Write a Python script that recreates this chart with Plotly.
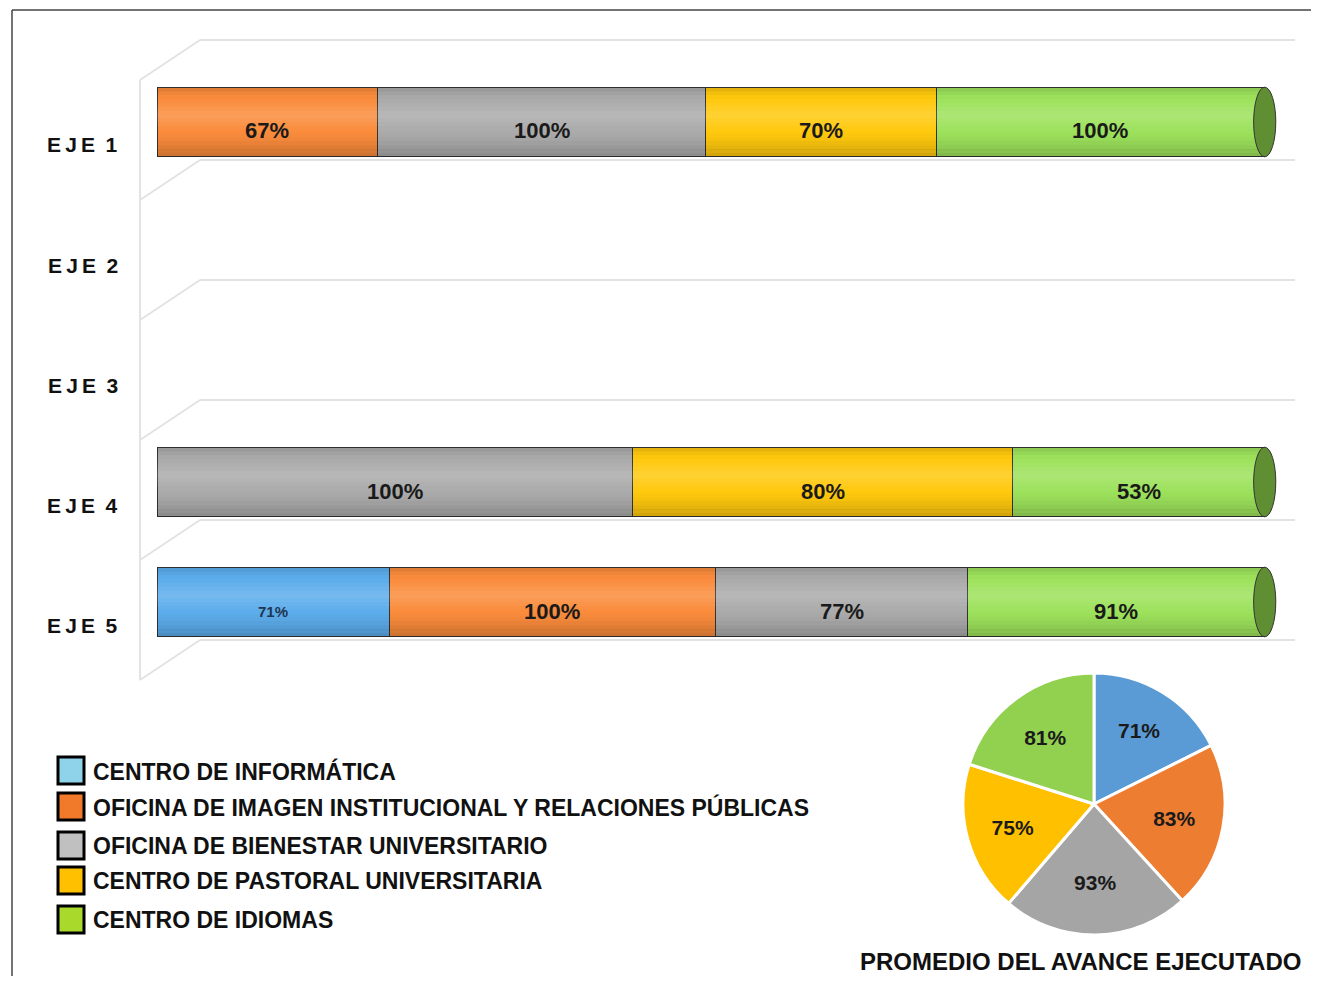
import plotly.graph_objects as go

# Data
ejes = ["EJE 1", "EJE 2", "EJE 3", "EJE 4", "EJE 5"]
eje_labels = ["E\u2009J\u2009E\u2002" + e.split()[1] for e in ejes]

oficinas = [
    "CENTRO DE INFORMÁTICA",
    "OFICINA DE IMAGEN INSTITUCIONAL Y RELACIONES PÚBLICAS",
    "OFICINA DE BIENESTAR UNIVERSITARIO",
    "CENTRO DE PASTORAL UNIVERSITARIA",
    "CENTRO DE IDIOMAS",
]
informatica = [None, None, None, None, 71]
imagen = [67, None, None, None, 100]
bienestar = [100, None, None, 100, 77]
pastoral = [70, None, None, 80, None]
idiomas = [100, None, None, 53, 91]
avance_por_eje = [informatica, imagen, bienestar, pastoral, idiomas]

promedio = [71, 83, 93, 75, 81]
pie_title = "PROMEDIO DEL AVANCE EJECUTADO"

# Styles
FONT = "Liberation Sans, Arial, sans-serif"
BAR_COLORS = ["#5DADEC", "#FA8C3C", "#ABABAB", "#FFC90E", "#9DE25C"]
LEGEND_COLORS = ["#8FD3EA", "#F07A2A", "#C0C0C0", "#FFC000", "#A9D92A"]
PIE_COLORS = ["#5B9BD5", "#ED7D31", "#A5A5A5", "#FFC000", "#92D050"]
CAP_COLOR = "#5F8E33"
GRID = "#E3E3E3"
HALF = 0.29  # half bar thickness in category units
N_BANDS = 18  # strips used to fake the cylinder gradient

# page body has an 8px margin; map reference pixels to paper coords
W, H = 1303, 968


def px(x):
    return (x - 8) / W


def py(y):
    return 1 - (y - 8) / H


def shade(t):
    """Overlay colour for position t in [-1, 1] across the bar (top to bottom)."""
    d = t + 0.2
    if abs(d) < 0.45:
        return f"rgba(255,255,255,{0.16 * (1 - abs(d) / 0.45):.3f})"
    if d < 0:
        return f"rgba(0,0,0,{0.13 * ((abs(d) - 0.45) / 0.35) ** 1.5:.3f})"
    return f"rgba(0,0,0,{0.20 * ((d - 0.45) / 0.75) ** 1.5:.3f})"


fig = go.Figure()

for name, vals, color in zip(oficinas, avance_por_eje, BAR_COLORS):
    fig.add_trace(go.Bar(
        y=ejes, x=vals, orientation="h", name=name,
        marker=dict(color=color, line=dict(color="#333333", width=1)),
        width=2 * HALF, showlegend=False,
        hovertemplate=name + "<br>%{y}: %{customdata}%<extra></extra>",
        customdata=vals,
    ))

fig.add_trace(go.Pie(
    values=promedio, text=[f"<b>{v}%</b>" for v in promedio],
    textinfo="text", sort=False, direction="clockwise", rotation=0,
    marker=dict(colors=PIE_COLORS, line=dict(color="white", width=3)),
    textfont=dict(family=FONT, size=21, color="#1A1A1A"),
    insidetextorientation="horizontal",
    domain=dict(x=[px(963), px(1225)], y=[py(935), py(673)]),
    showlegend=False, hoverinfo="skip",
))

shapes = []
annotations = []

# 3D-style grid: back wall lines, side diagonals, front edge
for k in range(6):
    yb = 40 + 120 * k
    shapes.append(dict(type="line", xref="paper", yref="paper",
                       x0=px(200), x1=px(1295), y0=py(yb), y1=py(yb),
                       line=dict(color=GRID, width=2), layer="below"))
    shapes.append(dict(type="line", xref="paper", yref="paper",
                       x0=px(140), x1=px(200), y0=py(yb + 40), y1=py(yb),
                       line=dict(color=GRID, width=2), layer="below"))
shapes.append(dict(type="line", xref="paper", yref="paper",
                   x0=px(140), x1=px(140), y0=py(80), y1=py(680),
                   line=dict(color=GRID, width=2), layer="below"))

# cylinder shading, end caps and segment labels on rows that have data
step = 2 * HALF / N_BANDS
for i, eje in enumerate(ejes):
    row = [v[i] for v in avance_por_eje]
    total = sum(v for v in row if v is not None)
    if not total:
        continue
    for b in range(N_BANDS):
        y0 = i - HALF + b * step
        t = (b + 0.5) / N_BANDS * 2 - 1
        shapes.append(dict(type="rect", xref="x", yref="y", x0=0, x1=100,
                           y0=y0, y1=y0 + step * 1.02,
                           fillcolor=shade(t), line=dict(width=0)))
    shapes.append(dict(type="circle", xref="x", yref="y",
                       x0=99, x1=101, y0=i - HALF, y1=i + HALF,
                       fillcolor=CAP_COLOR, line=dict(color="#333333", width=1)))
    acc = 0
    for j, v in enumerate(row):
        if v is None:
            continue
        share = v / total * 100
        small = j == 0
        annotations.append(dict(
            text=f"<b>{v}%</b>", xref="x", yref="y",
            x=acc + share / 2, y=eje, yshift=-9,
            showarrow=False,
            font=dict(family=FONT, size=15 if small else 22,
                      color="#1F3550" if small else "#1A1A1A")))
        acc += share

# outer frame (only top and left edges are visible)
shapes.append(dict(type="line", xref="paper", yref="paper",
                   x0=px(12), x1=1.05, y0=py(10), y1=py(10),
                   line=dict(color="#444444", width=1.5)))
shapes.append(dict(type="line", xref="paper", yref="paper",
                   x0=px(12), x1=px(12), y0=py(10), y1=-0.05,
                   line=dict(color="#444444", width=1.5)))

# custom legend
legend_y = [771, 807, 846, 881, 920]
for name, color, yc in zip(oficinas, LEGEND_COLORS, legend_y):
    shapes.append(dict(type="rect", xref="paper", yref="paper",
                       x0=px(58), x1=px(84), y0=py(yc + 13), y1=py(yc - 14),
                       fillcolor=color, line=dict(color="black", width=3)))
    annotations.append(dict(
        text=f"<b>{name}</b>", xref="paper", yref="paper",
        x=px(91), y=py(yc), xanchor="left", yanchor="middle",
        showarrow=False, font=dict(family=FONT, size=23, color="#111111")))

for eje, lab in zip(ejes, eje_labels):
    annotations.append(dict(
        text=f"<b>{lab}</b>", xref="paper", yref="y",
        x=px(120), y=eje, yshift=-23, xanchor="right", yanchor="middle",
        showarrow=False, font=dict(family=FONT, size=21, color="#111111")))

annotations.append(dict(
    text=f"<b>{pie_title}</b>", xref="paper", yref="paper",
    x=px(1080), y=py(961), xanchor="center", yanchor="middle",
    showarrow=False, font=dict(family=FONT, size=24, color="#111111")))

fig.update_layout(
    width=W, height=H,
    margin=dict(l=0, r=0, t=0, b=0),
    paper_bgcolor="white", plot_bgcolor="rgba(0,0,0,0)",
    barmode="stack", barnorm="percent",
    xaxis=dict(domain=[px(157), px(1278)], range=[0, 101.2],
               visible=False, fixedrange=True),
    yaxis=dict(domain=[py(662), py(62)], range=[4.5, -0.5],
               type="category", categoryorder="array", categoryarray=ejes,
               showticklabels=False, showgrid=False, zeroline=False,
               fixedrange=True),
    shapes=shapes, annotations=annotations,
    font=dict(family=FONT),
)

fig.write_html("out.html")
